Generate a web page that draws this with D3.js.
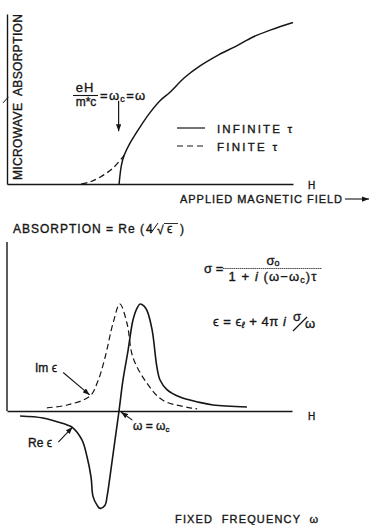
<!DOCTYPE html>
<html><head><meta charset="utf-8">
<script src="https://cdn.jsdelivr.net/npm/d3@7"></script>
<style>
html,body{margin:0;padding:0;background:#fff;}
svg{display:block;}
text{font-family:"Liberation Sans",Arial,Helvetica,sans-serif;fill:#161616;stroke:#161616;stroke-width:0.35px;}
</style></head><body>
<script>
// Upper panel: microwave absorption against applied magnetic field
const fieldInfinite = [3.92, 3.95, 4.0, 4.1, 4.3, 4.65, 5.0, 5.35, 5.7, 6.2, 6.75, 7.4, 8.0, 8.6, 9.2, 10.0];
const absInfinite   = [0, 0.5, 1.1, 1.7, 2.4, 3.35, 4.2, 4.9, 5.4, 6.25, 6.95, 7.6, 8.1, 8.65, 9.05, 9.5];
const fieldFinite   = [2.6, 2.9, 3.25, 3.7, 4.1];
const absFinite     = [0, 0.12, 0.4, 0.93, 1.7];
const legendLabels  = ["INFINITE τ", "FINITE τ"];

// Lower panel: real and imaginary parts of the dielectric constant at fixed frequency
const freqIm = [1.40, 2.11, 2.91, 3.19, 3.44, 3.72, 3.96, 4.21, 4.42, 4.91, 5.47, 6.42, 6.67];
const imEps  = [0.03, 0.056, 0.14, 0.28, 0.50, 0.82, 1.0, 0.82, 0.50, 0.26, 0.10, 0.03, 0.02];
const freqRe = [0.46, 1.26, 1.75, 2.11, 2.28, 2.63, 2.81, 2.95, 3.02, 3.16, 3.26, 3.44, 3.51, 3.61, 3.79, 3.93,
                4.07, 4.25, 4.42, 4.56, 4.67, 4.81, 4.91, 5.09, 5.26, 5.37, 5.61, 6.07, 6.70, 7.23, 8.42];
const reEps  = [-0.047, -0.065, -0.10, -0.13, -0.15, -0.27, -0.43, -0.62, -0.80, -0.88, -0.91, -0.88, -0.80, -0.62, -0.27, 0,
                0.29, 0.57, 0.85, 0.96, 1.0, 0.98, 0.94, 0.76, 0.41, 0.29, 0.20, 0.13, 0.084, 0.056, 0.037];

const W = 370, H = 525;
const svg = d3.select("body").append("svg").attr("width", W).attr("height", H);
const ink = "#161616";

svg.append("defs").append("marker")
  .attr("id", "arr").attr("viewBox", "0 0 8 6")
  .attr("refX", 8).attr("refY", 3)
  .attr("markerWidth", 7).attr("markerHeight", 5.5)
  .attr("markerUnits", "userSpaceOnUse").attr("orient", "auto")
  .append("path").attr("d", "M0,0L8,3L0,6Z").attr("fill", ink);

const curve = d3.curveCatmullRom.alpha(0.5);

// ---------- upper panel ----------
const xTop = d3.scaleLinear().domain([0, 10]).range([7, 293]);
const yTop = d3.scaleLinear().domain([0, 10]).range([184, 14]);
const upper = svg.append("g");

upper.append("g").attr("transform", `translate(0,${yTop(0)})`)
  .call(d3.axisBottom(xTop).ticks(0).tickSizeOuter(0))
  .call(g => g.select(".domain").attr("stroke", ink).attr("stroke-width", 1.4));
upper.append("g").attr("transform", `translate(${xTop(0)},0)`)
  .call(d3.axisLeft(yTop).ticks(0).tickSizeOuter(0))
  .call(g => g.select(".domain").attr("stroke", ink).attr("stroke-width", 1.4));
// small tick across the absorption axis
upper.append("line").attr("x1", xTop(0) - 4).attr("x2", xTop(0) + 1.5)
  .attr("y1", yTop(4.95) + 3).attr("y2", yTop(4.95) - 3)
  .attr("stroke", ink).attr("stroke-width", 1);

const lineTop = d3.line().x(d => xTop(d[0])).y(d => yTop(d[1])).curve(curve);
upper.append("path").datum(d3.zip(fieldInfinite, absInfinite))
  .attr("d", lineTop).attr("fill", "none").attr("stroke", ink).attr("stroke-width", 1.5);
upper.append("path").datum(d3.zip(fieldFinite, absFinite))
  .attr("d", lineTop).attr("fill", "none").attr("stroke", ink).attr("stroke-width", 1.3)
  .attr("stroke-dasharray", "6,3.5");

// y-axis title
upper.append("text").attr("transform", "translate(22,180) rotate(-90)")
  .attr("font-size", 12).attr("textLength", 166).attr("lengthAdjust", "spacing")
  .style("white-space", "pre")
  .text("MICROWAVE  ABSORPTION");

// x-axis title with arrow
upper.append("text").attr("x", 180).attr("y", 203).attr("font-size", 11)
  .attr("textLength", 162).attr("lengthAdjust", "spacing").text("APPLIED MAGNETIC FIELD");
upper.append("line").attr("x1", 345).attr("x2", 369).attr("y1", 199).attr("y2", 199)
  .attr("stroke", ink).attr("stroke-width", 1.1).attr("marker-end", "url(#arr)");
upper.append("text").attr("x", 308).attr("y", 189).attr("font-size", 10).text("H");

// resonance condition annotation
const ann = upper.append("g").attr("font-size", 13);
ann.append("text").attr("x", 85).attr("y", 92).attr("text-anchor", "middle")
  .attr("letter-spacing", 1).text("eH");
ann.append("line").attr("x1", 73).attr("x2", 98).attr("y1", 95.5).attr("y2", 95.5)
  .attr("stroke", ink).attr("stroke-width", 1.1);
ann.append("text").attr("x", 86).attr("y", 105.5).attr("text-anchor", "middle")
  .attr("font-size", 12).text("m*c");
const eqT = ann.append("text").attr("x", 100).attr("y", 99.5).attr("letter-spacing", 1.3);
eqT.append("tspan").text("=ω");
eqT.append("tspan").attr("font-size", 9).attr("dy", 2).text("c");
eqT.append("tspan").attr("dy", -2).text("=ω");
upper.append("line")
  .attr("x1", xTop(fieldInfinite[0]) - 0.5).attr("x2", xTop(fieldInfinite[0]) - 0.5)
  .attr("y1", yTop(4.9)).attr("y2", yTop(3.1))
  .attr("stroke", ink).attr("stroke-width", 1.2).attr("marker-end", "url(#arr)");

// legend
const legY = [128, 146];
const legLen = [75, 60];
legendLabels.forEach((lab, i) => {
  upper.append("line").attr("x1", 177).attr("x2", 205).attr("y1", legY[i]).attr("y2", legY[i])
    .attr("stroke", ink).attr("stroke-width", 1.2)
    .attr("stroke-dasharray", i === 0 ? null : "6,4");
  upper.append("text").attr("x", 217).attr("y", legY[i] + 5).attr("font-size", 11.5)
    .attr("textLength", legLen[i]).attr("lengthAdjust", "spacing").text(lab);
});

// ---------- lower panel ----------
const xBot = d3.scaleLinear().domain([0, 10]).range([7, 292]);
const yBot = d3.scaleLinear().domain([-1, 1]).range([518, 304]);
const lower = svg.append("g");

lower.append("g").attr("transform", `translate(0,${yBot(0)})`)
  .call(d3.axisBottom(xBot).ticks(0).tickSizeOuter(0))
  .call(g => g.select(".domain").attr("stroke", ink).attr("stroke-width", 1.4));
lower.append("line").attr("x1", xBot(0)).attr("x2", xBot(0))
  .attr("y1", yBot(1.58)).attr("y2", yBot(0))
  .attr("stroke", ink).attr("stroke-width", 1.4);

const lineBot = d3.line().x(d => xBot(d[0])).y(d => yBot(d[1])).curve(curve);
lower.append("path").datum(d3.zip(freqIm, imEps))
  .attr("d", lineBot).attr("fill", "none").attr("stroke", ink).attr("stroke-width", 1.2)
  .attr("stroke-dasharray", "6,3.5");
lower.append("path").datum(d3.zip(freqRe, reEps))
  .attr("d", lineBot).attr("fill", "none").attr("stroke", ink).attr("stroke-width", 1.6);

lower.append("text").attr("x", 308).attr("y", 420).attr("font-size", 10).text("H");

// title formula
const ttl = lower.append("g").attr("font-size", 12);
ttl.append("text").attr("x", 13).attr("y", 233).attr("textLength", 131)
  .attr("lengthAdjust", "spacing").text("ABSORPTION = Re (");
ttl.append("text").attr("x", 146).attr("y", 233).text("4");
ttl.append("line").attr("x1", 151).attr("x2", 158).attr("y1", 233).attr("y2", 223)
  .attr("stroke", ink).attr("stroke-width", 1);
ttl.append("text").attr("x", 157).attr("y", 234).text("√");
ttl.append("line").attr("x1", 164).attr("x2", 178).attr("y1", 223.5).attr("y2", 223.5)
  .attr("stroke", ink).attr("stroke-width", 0.9);
ttl.append("text").attr("x", 167).attr("y", 233).text("ϵ");
ttl.append("text").attr("x", 180).attr("y", 233).text(")");

// conductivity and dielectric formulas
const fm = lower.append("g").attr("font-size", 13);
fm.append("text").attr("x", 204).attr("y", 273).text("σ =");
fm.append("line").attr("x1", 223).attr("x2", 322).attr("y1", 268.5).attr("y2", 268.5)
  .attr("stroke", ink).attr("stroke-width", 0.8).attr("stroke-dasharray", "1.5,0.6");
const num = fm.append("text").attr("x", 273).attr("y", 265).attr("text-anchor", "middle");
num.append("tspan").text("σ");
num.append("tspan").attr("font-size", 9).attr("dy", 1).text("o");
const den = fm.append("text").attr("x", 273).attr("y", 281).attr("text-anchor", "middle")
  .attr("letter-spacing", 1.1);
den.append("tspan").text("1 + ");
den.append("tspan").attr("font-style", "italic").text("i");
den.append("tspan").text(" (ω−ω");
den.append("tspan").attr("font-size", 9).attr("dy", 2).text("c");
den.append("tspan").attr("dy", -2).text(")τ");

const ep = fm.append("text").attr("x", 213).attr("y", 326).attr("letter-spacing", 0.5);
ep.append("tspan").text("ϵ = ϵ");
ep.append("tspan").attr("font-size", 9).attr("dy", 2).attr("font-style", "italic").text("ℓ");
ep.append("tspan").attr("dy", -2).text(" + 4π ");
ep.append("tspan").attr("font-style", "italic").text("i");
fm.append("text").attr("x", 293).attr("y", 321).text("σ");
fm.append("line").attr("x1", 293).attr("x2", 307).attr("y1", 331).attr("y2", 317)
  .attr("stroke", ink).attr("stroke-width", 1.3);
fm.append("text").attr("x", 305).attr("y", 328).text("ω");

// curve labels with pointers
lower.append("text").attr("x", 35).attr("y", 372).attr("font-size", 12).text("Im ϵ");
lower.append("line").attr("x1", xBot(1.97)).attr("y1", yBot(0.36))
  .attr("x2", xBot(2.9)).attr("y2", yBot(0.15))
  .attr("stroke", ink).attr("stroke-width", 1.1).attr("marker-end", "url(#arr)");
lower.append("text").attr("x", 28).attr("y", 447).attr("font-size", 12).text("Re ϵ");
lower.append("line").attr("x1", xBot(1.8)).attr("y1", yBot(-0.29))
  .attr("x2", xBot(2.3)).attr("y2", yBot(-0.15))
  .attr("stroke", ink).attr("stroke-width", 1.1).attr("marker-end", "url(#arr)");
const wc = lower.append("text").attr("x", 133).attr("y", 430).attr("font-size", 12);
wc.append("tspan").text("ω = ω");
wc.append("tspan").attr("font-size", 8).attr("dy", 2).text("c");
lower.append("line").attr("x1", xBot(4.4)).attr("y1", yBot(-0.085))
  .attr("x2", xBot(4.0)).attr("y2", yBot(-0.01))
  .attr("stroke", ink).attr("stroke-width", 1.1).attr("marker-end", "url(#arr)");

lower.append("text").attr("x", 175).attr("y", 523).attr("font-size", 11)
  .attr("textLength", 143).attr("lengthAdjust", "spacing")
  .style("white-space", "pre").text("FIXED  FREQUENCY  ω");
</script>
</body></html>
